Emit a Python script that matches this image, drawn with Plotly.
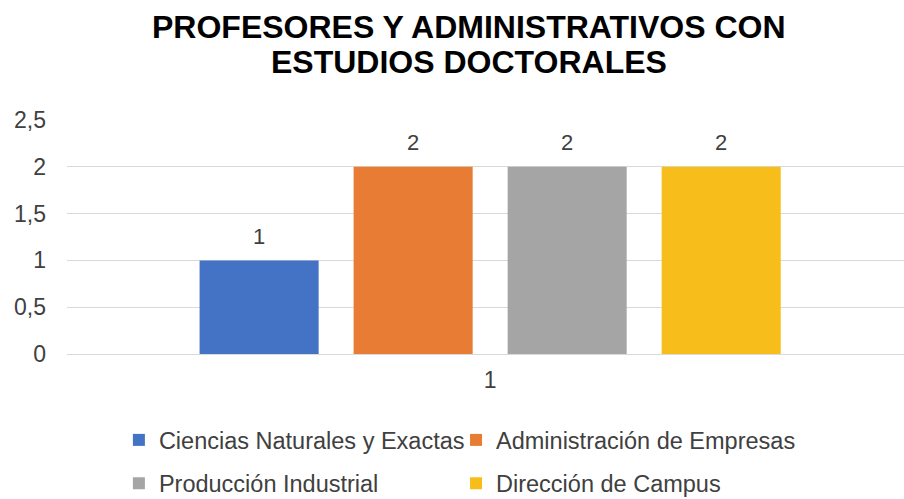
import plotly.graph_objects as go

categories = ["1"]
series_names = ["Ciencias Naturales y Exactas", "Administración de Empresas",
                "Producción Industrial", "Dirección de Campus"]
series_values = [[1], [2], [2], [2]]
colors = ["#4472C4", "#E97C34", "#A5A5A5", "#F7BE1B"]
y_ticks = [0, 0.5, 1, 1.5, 2, 2.5]
y_tick_labels = ["0", "0,5", "1", "1,5", "2", "2,5"]
title_lines = ["PROFESORES Y ADMINISTRATIVOS CON", "ESTUDIOS DOCTORALES"]

FONT = "Liberation Sans, Arial, Helvetica, sans-serif"
TXT = "#404040"

# legend grid: 2 columns x 2 rows (one legend box per entry)
legend_ids = ["legend", "legend2", "legend3", "legend4"]
legend_x = [0.062, 0.4648, 0.062, 0.4648]
legend_y = [-0.368, -0.368, -0.553, -0.553]

fig = go.Figure()
for name, vals, col, lid in zip(series_names, series_values, colors, legend_ids):
    fig.add_trace(go.Bar(
        x=categories, y=vals, name=name,
        marker=dict(color=col, line=dict(width=0)),
        text=[str(v) for v in vals],
        texttemplate="<span style='font-size:22px'>%{text}</span><br> ",
        textposition="outside",
        textfont=dict(family=FONT, size=9, color=TXT),
        cliponaxis=False,
        legend=lid,
    ))

legend_layout = {}
for lid, lx, ly in zip(legend_ids, legend_x, legend_y):
    legend_layout[lid] = dict(orientation="h", x=lx, y=ly, xanchor="left",
                              yanchor="middle",
                              font=dict(family=FONT, size=23.5, color=TXT),
                              bgcolor="rgba(0,0,0,0)", itemclick=False,
                              itemdoubleclick=False)

# Title (two lines) as centred text
for line, ypos in zip(title_lines, [1.3975, 1.2465]):
    fig.add_annotation(text="<b>" + line + "</b>", xref="paper", yref="paper",
                       x=0.4797, y=ypos, xanchor="center", yanchor="middle",
                       showarrow=False,
                       font=dict(family=FONT, size=32, color="#000000"))

fig.update_layout(
    width=904, height=499,
    margin=dict(l=67, r=0, t=120, b=145, autoexpand=False),
    paper_bgcolor="white", plot_bgcolor="white",
    separators=",.",
    barmode="group",
    bargap=0.272, bargroupgap=0.227,
    font=dict(family=FONT, size=23, color=TXT),
    xaxis=dict(type="category", range=[-0.5, 0.489], showgrid=False,
               showline=False, ticks="", tickfont=dict(size=23, color=TXT),
               ticklabelstandoff=10),
    yaxis=dict(range=[0, 2.5], tickvals=y_ticks, ticktext=y_tick_labels,
               showgrid=True, gridcolor="#D9D9D9", gridwidth=1,
               zeroline=True, zerolinecolor="#D9D9D9", zerolinewidth=1,
               showline=False, ticks="", ticklabelstandoff=20,
               tickfont=dict(size=23, color=TXT)),
    showlegend=True,
    **legend_layout,
)

fig.write_html("out.html", config={"displayModeBar": False},
               post_script="document.body.style.margin='0';")
